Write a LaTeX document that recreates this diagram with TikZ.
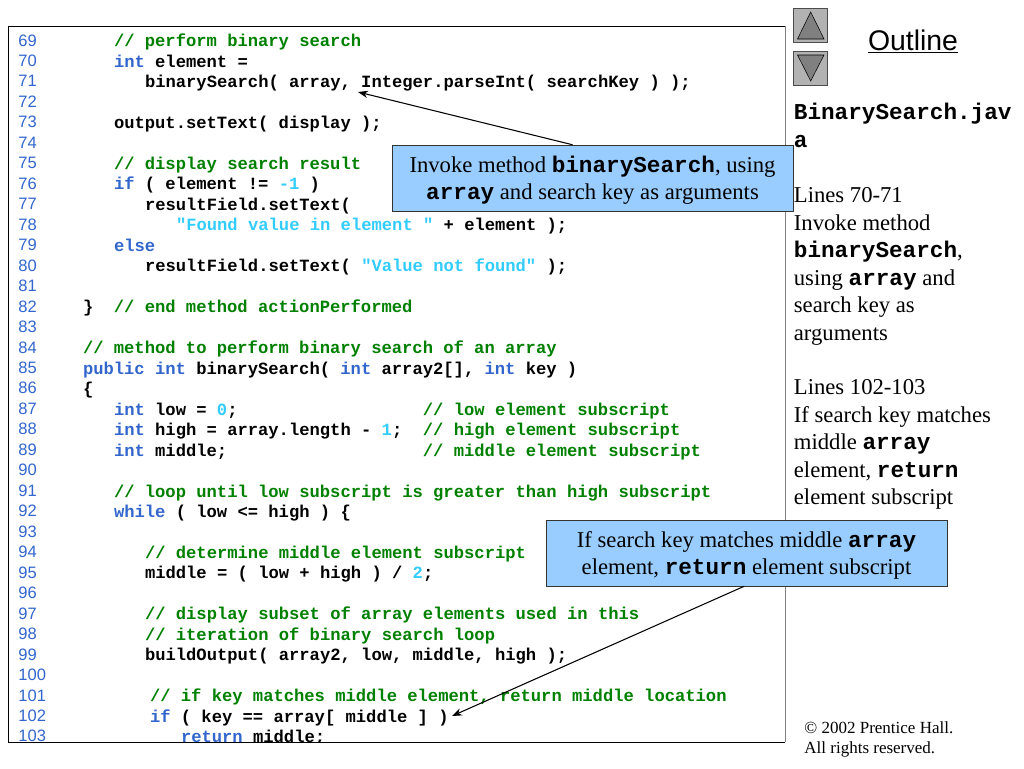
\documentclass[tikz,border=0pt]{standalone}
\usepackage{fontspec}
\setmainfont{Liberation Serif}
\setsansfont{Liberation Sans}
\setmonofont{Liberation Mono}
\usepackage{pgf, tikz}
\usetikzlibrary{arrows.meta}

\definecolor{kwblue}{HTML}{3366CC}
\definecolor{cmgreen}{HTML}{008000}
\definecolor{litcyan}{HTML}{33CCFF}
\definecolor{calloutblue}{HTML}{99CCFF}
\definecolor{btngray}{HTML}{B2B2B2}
\definecolor{arrowgray}{HTML}{808080}

\newcommand{\kw}[1]{\textcolor{kwblue}{#1}}
\newcommand{\cm}[1]{\textcolor{cmgreen}{#1}}
\newcommand{\lit}[1]{\textcolor{litcyan}{#1}}
\newcommand{\mon}[1]{{\ttfamily\bfseries #1}}
\newcommand{\codeline}[3]{\node[code] (c#1) at ({#2-0.4},{46.7+(#1-69)*20.47}) {#3};}

\begin{document}
\begin{tikzpicture}[
            x = 0.75pt,
            y = -0.75pt,
            > = {Stealth[length=7.5pt,width=5.5pt]}, % arrow head style
            semithick % line style
        ]

        \tikzstyle{code}=[
            anchor = base west,
            inner sep = 0pt,
            font = \fontsize{12.87}{15}\selectfont\ttfamily\bfseries
        ]
        \tikzstyle{lnum}=[
            anchor = base west,
            inner sep = 0pt,
            text = kwblue,
            font = \fontsize{12.4}{14}\selectfont\sffamily
        ]
        \tikzstyle{callout}=[
            draw = black!80,
            thin,
            fill = calloutblue,
            minimum width = 300.75pt,
            minimum height = 49.5pt,
            inner sep = 0pt,
            align = center,
            font = \fontsize{17}{20.3}\selectfont
        ]
        \tikzstyle{side}=[
            anchor = north west,
            inner sep = 0pt,
            align = left,
            font = \fontsize{17}{20.7}\selectfont
        ]
        \tikzstyle{btn}=[
            draw = black!70,
            fill = btngray,
            thin,
            minimum size = 25.8pt,
            inner sep = 0pt
        ]

        \useasboundingbox (0,0) rectangle (1024,768);

        \begin{scope}
        \clip (8,26) rectangle (785,742);
        \foreach \n in {69,...,103}
            \node[lnum] (n\n) at (18,{46+(\n-69)*20.47}) {\n};

        \codeline{69}{114}{\cm{// perform binary search}}
        \codeline{70}{114}{\kw{int} element =}
        \codeline{71}{145}{binarySearch( array, Integer.parseInt( searchKey ) );}
        \codeline{73}{114}{output.setText( display );}
        \codeline{75}{114}{\cm{// display search result}}
        \codeline{76}{114}{\kw{if} ( element != \lit{-1} )}
        \codeline{77}{145}{resultField.setText(}
        \codeline{78}{176}{\lit{"Found value in element "} + element );}
        \codeline{79}{114}{\kw{else}}
        \codeline{80}{145}{resultField.setText( \lit{"Value not found"} );}
        \codeline{82}{83}{\}~~\cm{// end method actionPerformed}}
        \codeline{84}{83}{\cm{// method to perform binary search of an array}}
        \codeline{85}{83}{\kw{public int} binarySearch( \kw{int} array2[], \kw{int} key )}
        \codeline{86}{83}{\{}
        \codeline{87}{114}{\kw{int} low = \lit{0};~~~~~~~~~~~~~~~~~~\cm{// low element subscript}}
        \codeline{88}{114}{\kw{int} high = array.length - \lit{1};~~\cm{// high element subscript}}
        \codeline{89}{114}{\kw{int} middle;~~~~~~~~~~~~~~~~~~~\cm{// middle element subscript}}
        \codeline{91}{114}{\cm{// loop until low subscript is greater than high subscript}}
        \codeline{92}{114}{\kw{while} ( low <= high ) \{}
        \codeline{94}{145}{\cm{// determine middle element subscript}}
        \codeline{95}{145}{middle = ( low + high ) / \lit{2};}
        \codeline{97}{145}{\cm{// display subset of array elements used in this}}
        \codeline{98}{145}{\cm{// iteration of binary search loop}}
        \codeline{99}{145}{buildOutput( array2, low, middle, high );}
        \codeline{101}{150}{\cm{// if key matches middle element, return middle location}}
        \codeline{102}{150}{\kw{if} ( key == array[ middle ] )}
        \codeline{103}{181}{\kw{return} middle;}
        \end{scope}

        % code frame
        \draw[thin, black] (785,26) -- (8,26) -- (8,742) -- (785,742);
        \draw[arrowgray, semithick] (785,26) -- (785,742);

        % callouts and their arrows
        \node[callout, text depth=0pt] (invoke) at (592.5,178) {\raisebox{0.5pt}{Invoke method \mon{binarySearch}, using}\\ \raisebox{0.5pt}{\mon{array} and search key as arguments}};
        \node[callout, text depth=0pt] (matches) at (746.5,553) {\raisebox{0.5pt}{If search key matches middle \mon{array}}\\ \raisebox{0.5pt}{element, \mon{return} element subscript}};
        \coordinate (tipinvoke) at (358,92);
        \coordinate (tipmatches) at (452,716);
        \draw[->, thick] (invoke.121) -- (tipinvoke);
        \draw[->, thick] (matches.266) -- (tipmatches);

        % outline buttons
        \node[btn] (btnup) at (810.5,25.5) {};
        \node[btn] (btndown) at (810.5,68) {};
        \draw[fill=arrowgray, thin] (810.7,12) -- (797.5,39) -- (824,39) -- cycle;
        \draw[fill=arrowgray, thin] (797.5,55) -- (824,55) -- (810.7,81) -- cycle;

        \node[anchor=base, inner sep=0pt, font=\fontsize{21.3}{25}\selectfont\sffamily] (outline) at (913,50) {\underline{Outline}};

        % side notes
        \node[side, font=\fontsize{17}{21}\selectfont\ttfamily\bfseries] (fname) at (793.5,103) {BinarySearch.jav\\a};
        \node[side] (notea) at (793.5,187) {Lines 70-71\\ Invoke method\\ \mon{binarySearch},\\ using \mon{array} and\\ search key as\\ arguments};
        \node[side] (noteb) at (793.5,379) {Lines 102-103\\ If search key matches\\ middle \mon{array}\\ element, \mon{return}\\ element subscript};

        \node[side, font=\fontsize{12.75}{15.4}\selectfont] (copy) at (804,721) {© 2002 Prentice Hall.\\ All rights reserved.};

\end{tikzpicture}
\end{document}
